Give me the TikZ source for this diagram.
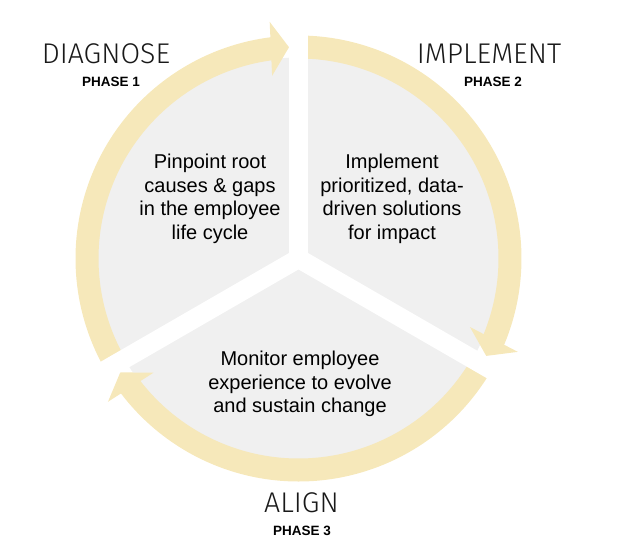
\documentclass[tikz,border=0pt]{standalone}
\usepackage{fontspec}
\setmainfont{Liberation Sans}
\newfontfamily\lightfont{Fira Sans Light}
\usetikzlibrary{calc}
\definecolor{ringcol}{RGB}{246,232,186}
\definecolor{discol}{RGB}{240,240,240}
\tikzset{
  bigtitle/.style={anchor=base, inner sep=0pt, font=\lightfont\fontsize{28.5}{32}\selectfont, text=black!90},
  phase/.style={anchor=base, inner sep=0pt, font=\bfseries\fontsize{13.5}{16}\selectfont},
  body/.style={align=center, inner sep=0pt, font=\fontsize{20}{23.5}\selectfont},
  ringfill/.style={fill=ringcol},
  gap/.style={draw=white, line width=19}
}
\begin{document}
\begin{tikzpicture}[x=1pt,y=1pt]
\useasboundingbox (0,0) rectangle (628,555);
\coordinate (C) at (298.5,296.5);
\fill[discol] (C) circle[radius=201];
\begin{scope}[shift={(C)}]
\foreach \s/\e in {210/90, 90/-30, -30/-150} {
  \pgfmathsetmacro\b{\e+7.5}
  \pgfmathsetmacro\bb{\e+6.5}
  \pgfmathsetmacro\t{\e+2.575}
  \fill[ringfill] (\s:223) arc[start angle=\s, end angle=\bb, radius=223]
     -- (\bb:200) arc[start angle=\bb, end angle=\s, radius=200] -- cycle;
  \fill[ringfill] ($(\b:211.5)+(\t:27)$) -- (\t:211.5) -- ($(\b:211.5)-(\t:27)$) -- cycle;
}
\foreach \a in {90,210,330} {
  \draw[gap] (0,0) -- (\a:250);
}
\end{scope}
\node[bigtitle] (diag) at (106,491) {DIAGNOSE};
\node[phase] (ph1) at (111,468) {PHASE 1};
\node[bigtitle] (impl) at (489,491) {IMPLEMENT};
\node[phase] (ph2) at (493,468) {PHASE 2};
\node[bigtitle] (align) at (301.5,43) {ALIGN};
\node[phase] (ph3) at (302,20) {PHASE 3};
\node[body] (t1) at (210,356) {Pinpoint root\\causes \& gaps\\in the employee\\life cycle};
\node[body] (t2) at (392,356) {Implement\\prioritized, data-\\driven solutions\\for impact};
\node[body] (t3) at (300,171) {Monitor employee\\experience to evolve\\and sustain change};
\end{tikzpicture}
\end{document}
